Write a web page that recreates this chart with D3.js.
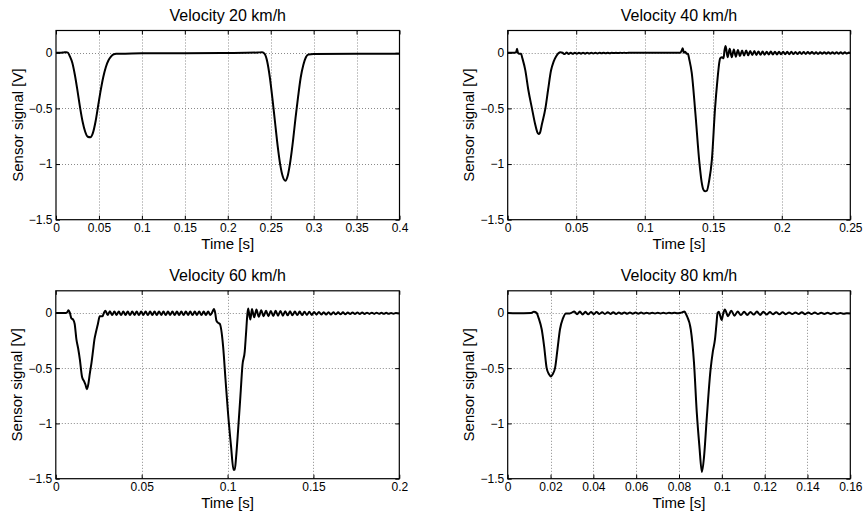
<!DOCTYPE html>
<html><head><meta charset="utf-8">
<script src="https://cdn.jsdelivr.net/npm/d3@7"></script>
<style>
body{margin:0;background:#fff}
svg{display:block}
text{font-family:"Liberation Sans",Arial,Helvetica,sans-serif;fill:#000}
</style>
</head><body>
<svg id="chart" width="863" height="516"></svg>
<script>
// ---------------- data ----------------
const titles = ["Velocity 20 km/h", "Velocity 40 km/h", "Velocity 60 km/h", "Velocity 80 km/h"];
const xLabel = "Time [s]";
const yLabel = "Sensor signal [V]";
const xMax = [0.4, 0.25, 0.2, 0.16];
const yDomain = [-1.5, 0.2];
const yTicks = [-1.5, -1, -0.5, 0];
const xTicks20 = [0, 0.05, 0.1, 0.15, 0.2, 0.25, 0.3, 0.35, 0.4];
const xTicks40 = [0, 0.05, 0.1, 0.15, 0.2, 0.25];
const xTicks60 = [0, 0.05, 0.1, 0.15, 0.2];
const xTicks80 = [0, 0.02, 0.04, 0.06, 0.08, 0.1, 0.12, 0.14, 0.16];

// 20 km/h
const time20 = [0, 0.005, 0.009, 0.012, 0.014, 0.016, 0.019, 0.022, 0.025, 0.028, 0.031, 0.034, 0.037, 0.040, 0.043, 0.046, 0.049, 0.052, 0.055, 0.058, 0.061, 0.064, 0.067, 0.070, 0.075, 0.1, 0.15, 0.2, 0.235, 0.240, 0.243, 0.246, 0.249, 0.252, 0.255, 0.258, 0.261, 0.264, 0.267, 0.270, 0.273, 0.276, 0.279, 0.282, 0.285, 0.288, 0.291, 0.294, 0.3, 0.35, 0.4];
const signal20 = [0, 0, 0.003, 0.005, 0.0, -0.03, -0.09, -0.2, -0.34, -0.49, -0.62, -0.71, -0.755, -0.76, -0.72, -0.62, -0.48, -0.34, -0.22, -0.13, -0.07, -0.035, -0.015, -0.008, -0.008, -0.005, -0.004, -0.002, 0.002, 0.005, -0.01, -0.08, -0.22, -0.41, -0.62, -0.83, -1.0, -1.11, -1.15, -1.10, -0.97, -0.79, -0.58, -0.39, -0.22, -0.11, -0.04, -0.015, -0.012, -0.01, -0.008];

// 40 km/h
const time40 = [0, 0.005, 0.0062, 0.0068, 0.0075, 0.0085, 0.0098, 0.0105, 0.0129, 0.015, 0.0177, 0.02, 0.0215, 0.0225, 0.0235, 0.025, 0.0275, 0.0295, 0.0316, 0.0335, 0.0355, 0.037, 0.0385, 0.040,
  0.0415, 0.043, 0.0445, 0.046, 0.0475, 0.049, 0.0505, 0.052, 0.0535, 0.055, 0.0565, 0.058, 0.0595, 0.061, 0.0625, 0.064, 0.0655, 0.067, 0.0685, 0.070, 0.0715, 0.073, 0.0745, 0.076, 0.0775, 0.079, 0.0805, 0.082, 0.0835, 0.085, 0.0865, 0.088,
  0.1, 0.12, 0.126, 0.127, 0.1277, 0.1285, 0.1295, 0.1307, 0.1315, 0.1325, 0.1343, 0.137, 0.1399, 0.1415, 0.1428, 0.144, 0.1453, 0.147, 0.149, 0.1513, 0.153, 0.1545, 0.155, 0.1565, 0.1575, 0.1582,
  0.159, 0.1605, 0.162, 0.1635, 0.165, 0.1665, 0.168, 0.1695, 0.171, 0.1725, 0.174, 0.1755, 0.177, 0.1785, 0.180, 0.1815, 0.183, 0.1845, 0.186, 0.1875, 0.189, 0.1905, 0.192, 0.1935, 0.195, 0.1965, 0.198, 0.1995, 0.201, 0.2025, 0.204, 0.2055, 0.207, 0.2085, 0.210, 0.2115, 0.213, 0.2145, 0.216, 0.2175, 0.219, 0.2205, 0.222, 0.2235, 0.225, 0.2265, 0.228, 0.2295, 0.231, 0.2325, 0.234, 0.2355, 0.237, 0.2385, 0.240, 0.2415, 0.243, 0.2445, 0.246, 0.2475, 0.249, 0.25];
const signal40 = [0, 0, 0.005, 0.035, 0.0, -0.01, -0.01, -0.04, -0.16, -0.33, -0.5, -0.64, -0.71, -0.73, -0.72, -0.64, -0.5, -0.33, -0.16, -0.08, -0.03, -0.005, 0.005, 0.0,
  -0.012, 0.002, -0.011, 0.001, -0.01, 0.001, -0.009, 0.001, -0.008, 0.0, -0.008, 0.0, -0.007, 0.0, -0.006, 0.0, -0.006, 0.0, -0.005, 0.0, -0.004, 0.0, -0.004, 0.0, -0.003, 0.0, -0.003, 0.0, -0.002, 0.0, -0.002, 0.0,
  0.0, 0.0, 0.0, 0.02, 0.04, 0.0, 0.01, -0.01, -0.01, -0.06, -0.18, -0.55, -0.99, -1.16, -1.23, -1.245, -1.24, -1.15, -0.96, -0.5, -0.25, -0.08, -0.05, -0.04, -0.05, 0.02,
  0.06, -0.04, 0.035, -0.04, 0.03, -0.035, 0.025, -0.03, 0.02, -0.025, 0.02, -0.022, 0.015, -0.02, 0.015, -0.02, 0.012, -0.018, 0.012, -0.018, 0.01, -0.016, 0.012, -0.016, 0.01, -0.015, 0.01, -0.014, 0.008, -0.014, 0.008, -0.013, 0.008, -0.012, 0.007, -0.012, 0.007, -0.011, 0.006, -0.011, 0.006, -0.01, 0.006, -0.01, 0.005, -0.01, 0.005, -0.009, 0.005, -0.009, 0.005, -0.009, 0.004, -0.008, 0.004, -0.008, 0.004, -0.008, 0.004, -0.007, 0.003, -0.002];

// 60 km/h
const time60 = [0, 0.006, 0.0068, 0.0074, 0.0082, 0.0091, 0.0101, 0.011, 0.012, 0.013, 0.014, 0.0153, 0.0165, 0.0173, 0.0181, 0.019, 0.0198, 0.0208, 0.0217, 0.0225, 0.0233, 0.0245, 0.0256, 0.0265, 0.0272, 0.028, 0.0289,
  0.0302, 0.0315, 0.0328, 0.0341, 0.0354, 0.0367, 0.038, 0.0393, 0.0406, 0.0419, 0.0432, 0.0445, 0.0458, 0.0471, 0.0484, 0.0497, 0.051, 0.0523, 0.0536, 0.0549, 0.0562, 0.0575, 0.0588, 0.0601, 0.0614, 0.0627, 0.064, 0.0653, 0.0666, 0.0679, 0.0692, 0.0705, 0.0718, 0.0731, 0.0744, 0.0757, 0.077, 0.0783, 0.0796, 0.0809, 0.0822, 0.0835, 0.0848, 0.0861, 0.0874, 0.0887, 0.09, 0.0913,
  0.0921, 0.0928, 0.0935, 0.0945, 0.0955, 0.0974, 0.0988, 0.1003, 0.102, 0.1035, 0.1042, 0.105, 0.1061, 0.1075, 0.1087, 0.11, 0.1107, 0.1115, 0.112, 0.1128, 0.1133,
  0.1142, 0.1155, 0.1168, 0.1182, 0.1196, 0.121, 0.1224, 0.1238, 0.1252, 0.1266, 0.128, 0.1294, 0.1308, 0.1322, 0.1336, 0.135, 0.1364, 0.1378, 0.1392, 0.1406, 0.142, 0.1434, 0.1448, 0.1462, 0.1476, 0.149, 0.1504, 0.1518, 0.1532, 0.1546, 0.156, 0.1574, 0.1588, 0.1602, 0.1616, 0.163, 0.1644, 0.1658, 0.1672, 0.1686, 0.17, 0.1714, 0.1728, 0.1742, 0.1756, 0.177, 0.1784, 0.1798, 0.1812, 0.1826, 0.184, 0.1854, 0.1868, 0.1882, 0.1896, 0.191, 0.1924, 0.1938, 0.1952, 0.1966, 0.198, 0.2];
const signal60 = [0, 0, 0.01, 0.025, 0.0, -0.05, -0.06, -0.1, -0.24, -0.32, -0.42, -0.58, -0.62, -0.65, -0.69, -0.64, -0.55, -0.45, -0.34, -0.24, -0.18, -0.1, -0.03, -0.03, -0.03, 0.0, 0.02,
  -0.02, 0.015, -0.02, 0.012, -0.018, 0.013, -0.02, 0.012, -0.018, 0.012, -0.02, 0.013, -0.018, 0.012, -0.019, 0.012, -0.018, 0.013, -0.02, 0.012, -0.018, 0.012, -0.019, 0.013, -0.018, 0.012, -0.02, 0.012, -0.018, 0.013, -0.019, 0.012, -0.018, 0.012, -0.02, 0.013, -0.018, 0.012, -0.019, 0.012, -0.018, 0.013, -0.02, 0.012, -0.018, 0.012, -0.019, 0.013,
  0.035, 0.0, -0.07, -0.09, -0.1, -0.3, -0.6, -0.91, -1.2, -1.42, -1.42, -1.3, -1.07, -0.75, -0.47, -0.35, -0.2, -0.02, 0.04, -0.03, -0.06,
  0.035, -0.04, 0.03, -0.035, 0.025, -0.03, 0.02, -0.03, 0.018, -0.028, 0.02, -0.025, 0.018, -0.025, 0.015, -0.022, 0.015, -0.022, 0.012, -0.02, 0.012, -0.02, 0.01, -0.018, 0.01, -0.018, 0.008, -0.016, 0.008, -0.015, 0.007, -0.015, 0.006, -0.014, 0.006, -0.013, 0.005, -0.012, 0.005, -0.012, 0.004, -0.011, 0.004, -0.01, 0.003, -0.01, 0.003, -0.01, 0.002, -0.009, 0.002, -0.009, 0.002, -0.008, 0.001, -0.008, 0.001, -0.008, 0.0, -0.007, 0.0, -0.006];

// 80 km/h
const time80 = [0, 0.004, 0.011, 0.0122, 0.0135, 0.0145, 0.0159, 0.017, 0.0182, 0.0193, 0.0201, 0.021, 0.0221, 0.0233, 0.0244, 0.0258, 0.0272, 0.029,
  0.0311, 0.0324, 0.0337, 0.035, 0.0363, 0.0376, 0.0389, 0.0402, 0.0415, 0.0428, 0.0441, 0.0454, 0.0467, 0.048, 0.0493, 0.0506, 0.0519, 0.0532, 0.0545, 0.0558, 0.0571, 0.0584, 0.0597, 0.061, 0.0623, 0.0636, 0.0649, 0.0662, 0.0675, 0.0688, 0.0701, 0.0714, 0.0727, 0.074, 0.0753, 0.0766, 0.0779, 0.0792,
  0.0805, 0.0815, 0.0825, 0.0835, 0.0855, 0.087, 0.0883, 0.0895, 0.0907, 0.0917, 0.0929, 0.0947, 0.0958, 0.0968, 0.0975, 0.098, 0.0986, 0.0993, 0.0999, 0.1006, 0.1014,
  0.1029, 0.1044, 0.1059, 0.1074, 0.1089, 0.1104, 0.1119, 0.1134, 0.1149, 0.1164, 0.1179, 0.1194, 0.1209, 0.1224, 0.1239, 0.1254, 0.1269, 0.1284, 0.1299, 0.1314, 0.1329, 0.1344, 0.1359, 0.1374, 0.1389, 0.1404, 0.1419, 0.1434, 0.1449, 0.1464, 0.1479, 0.1494, 0.1509, 0.1524, 0.1539, 0.1554, 0.1569, 0.1584, 0.16];
const signal80 = [0, -0.002, 0, 0.01, 0, -0.05, -0.15, -0.3, -0.5, -0.555, -0.575, -0.555, -0.5, -0.32, -0.15, -0.05, -0.005, -0.005,
  0.012, -0.012, 0.012, -0.015, 0.01, -0.013, 0.008, -0.012, 0.008, -0.01, 0.006, -0.01, 0.006, -0.009, 0.005, -0.009, 0.004, -0.008, 0.004, -0.008, 0.003, -0.007, 0.003, -0.007, 0.003, -0.006, 0.002, -0.006, 0.002, -0.005, 0.002, -0.005, 0.001, -0.005, 0.001, -0.004, 0.001, -0.004,
  0.0, 0.005, 0.012, -0.02, -0.15, -0.45, -0.9, -1.2, -1.44, -1.3, -0.97, -0.52, -0.35, -0.24, -0.1, 0.0, 0.01, -0.03, -0.065, -0.01, 0.03,
  -0.03, 0.02, -0.025, 0.012, -0.02, 0.01, -0.018, 0.008, -0.015, 0.012, -0.018, 0.01, -0.015, 0.008, -0.013, 0.006, -0.012, 0.005, -0.012, 0.004, -0.011, 0.004, -0.01, 0.006, -0.012, 0.004, -0.01, 0.003, -0.01, 0.002, -0.009, 0.002, -0.009, 0.001, -0.008, 0.0, -0.008, -0.002, -0.006];

const times = [time20, time40, time60, time80];
const signals = [signal20, signal40, signal60, signal80];
const xTickSets = [xTicks20, xTicks40, xTicks60, xTicks80];

// ---------------- layout ----------------
const boxes = [
  {l: 56,    r: 399.5, t: 30.5,  b: 219.7},
  {l: 507.7, r: 850.3, t: 30.5,  b: 219.7},
  {l: 55.8,  r: 399.3, t: 290.8, b: 478.7},
  {l: 507.7, r: 850.3, t: 290.8, b: 478.7}
];

const svg = d3.select("#chart");
const fmt = d => d === 0 ? "0" : d3.format("~g")(d);

boxes.forEach((bx, i) => {
  const x = d3.scaleLinear().domain([0, xMax[i]]).range([bx.l, bx.r]);
  const y = d3.scaleLinear().domain(yDomain).range([bx.b, bx.t]);
  const g = svg.append("g");
  const xt = xTickSets[i];

  // grid
  g.append("g").selectAll("line").data(xt.filter(v => v > 0 && v < xMax[i]))
    .join("line")
    .attr("x1", d => Math.round(x(d)) + 0.5).attr("x2", d => Math.round(x(d)) + 0.5)
    .attr("y1", bx.t).attr("y2", bx.b)
    .attr("stroke", "#8a8a8a").attr("stroke-width", 1).attr("stroke-dasharray", "1,2");
  g.append("g").selectAll("line").data(yTicks.filter(v => v > yDomain[0]))
    .join("line")
    .attr("y1", d => Math.round(y(d)) + 0.5).attr("y2", d => Math.round(y(d)) + 0.5)
    .attr("x1", bx.l).attr("x2", bx.r)
    .attr("stroke", "#8a8a8a").attr("stroke-width", 1).attr("stroke-dasharray", "1,2");

  // clip + line
  const cid = "clip" + i;
  svg.append("clipPath").attr("id", cid).append("rect")
    .attr("x", bx.l).attr("y", bx.t).attr("width", bx.r - bx.l).attr("height", bx.b - bx.t);
  const pts = times[i].map((t, k) => [t, signals[i][k]]);
  const line = d3.line().x(d => x(d[0])).y(d => y(d[1])).curve(d3.curveMonotoneX);
  g.append("path").datum(pts)
    .attr("clip-path", `url(#${cid})`)
    .attr("d", line).attr("fill", "none").attr("stroke", "#000")
    .attr("stroke-width", 2).attr("stroke-linejoin", "round");

  // axes (inward ticks)
  const tk = 4;
  const ax = g.append("g").attr("transform", `translate(0,${bx.b})`)
    .call(d3.axisBottom(x).tickValues(xt).tickFormat(fmt).tickSizeInner(-tk).tickSizeOuter(0).tickPadding(3.5));
  const axT = g.append("g").attr("transform", `translate(0,${bx.t})`)
    .call(d3.axisTop(x).tickValues(xt).tickFormat("").tickSizeInner(-tk).tickSizeOuter(0));
  const ay = g.append("g").attr("transform", `translate(${bx.l},0)`)
    .call(d3.axisLeft(y).tickValues(yTicks).tickFormat(fmt).tickSizeInner(-tk).tickSizeOuter(0).tickPadding(3.5));
  const ayR = g.append("g").attr("transform", `translate(${bx.r},0)`)
    .call(d3.axisRight(y).tickValues(yTicks).tickFormat("").tickSizeInner(-tk).tickSizeOuter(0));
  [ax, axT, ay, ayR].forEach(a => {
    a.select(".domain").remove();
    a.selectAll("line").attr("stroke", "#000");
    a.selectAll("text").attr("font-size", 12).attr("font-family", '"Liberation Sans", Arial, sans-serif').attr("fill", "#000");
  });

  // box
  g.append("rect").attr("x", bx.l).attr("y", bx.t)
    .attr("width", bx.r - bx.l).attr("height", bx.b - bx.t)
    .attr("fill", "none").attr("stroke", "#000").attr("stroke-width", 1.2);

  // title and labels
  const cx = (bx.l + bx.r) / 2, cy = (bx.t + bx.b) / 2;
  g.append("text").attr("x", cx).attr("y", bx.t - 10).attr("text-anchor", "middle")
    .attr("font-size", 16).text(titles[i]);
  g.append("text").attr("x", cx).attr("y", bx.b + 28.8).attr("text-anchor", "middle")
    .attr("font-size", 15).text(xLabel);
  g.append("text").attr("transform", `translate(${bx.l - 33.5},${cy}) rotate(-90)`)
    .attr("text-anchor", "middle").attr("font-size", 15).text(yLabel);
});
</script>
</body></html>
